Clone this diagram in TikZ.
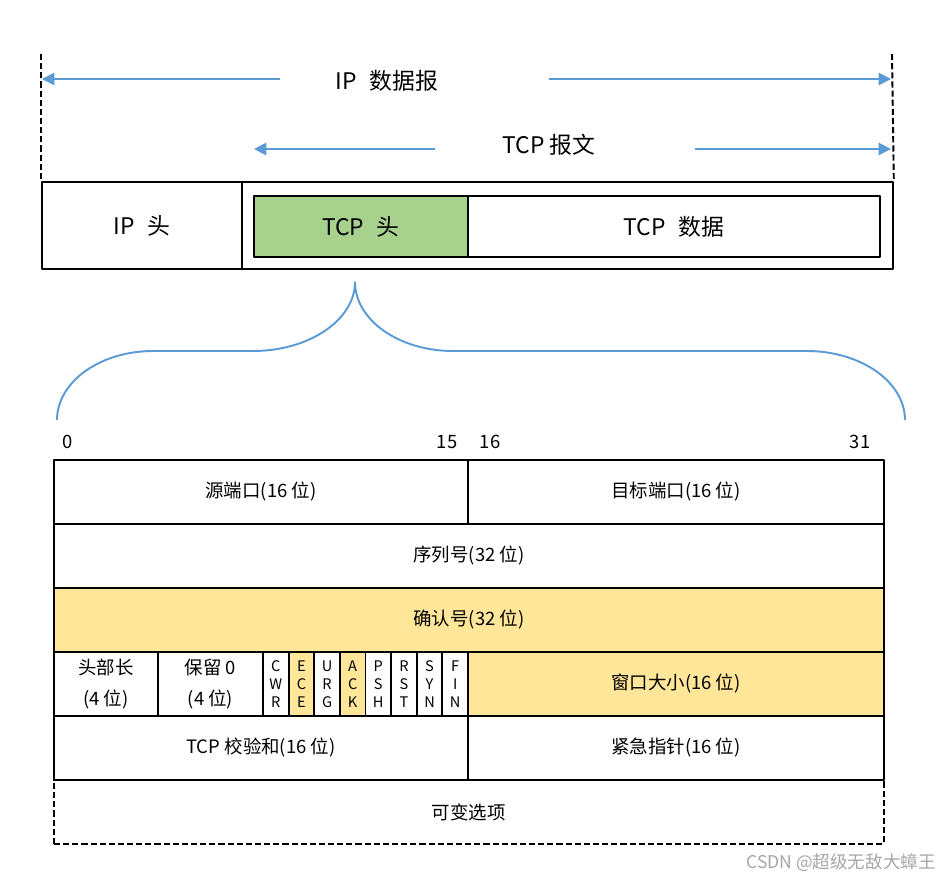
\documentclass[tikz,border=0pt]{standalone}
\usepackage{fontspec}
\setmainfont{Noto Sans CJK SC}
\usetikzlibrary{arrows.meta}
\definecolor{tcpgreen}{HTML}{A9D18E}
\definecolor{tcpyellow}{HTML}{FFE699}
\definecolor{tcpblue}{HTML}{5B9BD5}
\newcommand{\gap}{\hspace{0.55em}}
\tikzset{
  cell/.style={draw, line width=1.1pt, anchor=north west, inner sep=0pt, align=center,
    font=\fontsize{10.5}{18}\selectfont},
  flagcell/.style={cell, minimum width=0.5125cm, minimum height=1.28cm,
    font=\fontsize{8.3}{10.2}\selectfont},
  toplabel/.style={font=\fontsize{13}{15}\selectfont},
  bitnum/.style={font=\fontsize{10.5}{12}\selectfont},
  lenarrow/.style={tcpblue, line width=1.1pt, -{Triangle[length=7pt,width=7pt]}},
  bound/.style={line width=1.1pt, dash pattern=on 3.5pt off 1.7pt}
}
\begin{document}
\begin{tikzpicture}[x=0.02cm, y=-0.02cm, line join=round]
  \useasboundingbox (0,0) rectangle (946,880);
  % IP 数据报
  \node[cell, minimum width=4cm, minimum height=1.74cm, font=\fontsize{13}{15}\selectfont] (iphead) at (41,181) {IP\gap 头};
  \node[cell, minimum width=13.02cm, minimum height=1.74cm] (tcpseg) at (241,181) {};
  \node[cell, fill=tcpgreen, minimum width=4.28cm, minimum height=1.22cm, font=\fontsize{13}{15}\selectfont] (tcphead) at (253,195) {TCP\gap 头};
  \node[cell, minimum width=8.24cm, minimum height=1.22cm, font=\fontsize{13}{15}\selectfont] (tcpdata) at (467,195) {TCP\gap 数据};
  % dashed bounds
  \coordinate (ltop) at (41,54);
  \coordinate (rtop) at (892,54);
  \draw[bound] (ltop) -- (iphead.north west);
  \draw[bound] (rtop) -- (tcpseg.north east);
  % length arrows
  \node[toplabel] (iplabel) at (387,81) {IP\gap 数据报};
  \coordinate (ipls) at (280,79);
  \coordinate (iple) at (42,79);
  \coordinate (iprs) at (549,79);
  \coordinate (ipre) at (891,79);
  \draw[lenarrow] (ipls) -- (iple);
  \draw[lenarrow] (iprs) -- (ipre);
  \node[toplabel] (tcplabel) at (549,145) {TCP 报文};
  \coordinate (tcpls) at (435,149);
  \coordinate (tcple) at (254,149);
  \coordinate (tcprs) at (695,149);
  \coordinate (tcpre) at (891,149);
  \draw[lenarrow] (tcpls) -- (tcple);
  \draw[lenarrow] (tcprs) -- (tcpre);
  % brace
  \draw[tcpblue, line width=1.1pt] (57,420) .. controls (57,382) and (100,351) .. (153,351)
    -- (253,351) .. controls (309,351) and (355,320) .. (355,282)
    .. controls (355,320) and (399,351) .. (453,351)
    -- (807,351) .. controls (861,351) and (905,382) .. (905,420);
  % bit numbers
  \node[bitnum] (bit0) at (68,442) {0};
  \node[bitnum] (bit15) at (447,442) {15};
  \node[bitnum] (bit16) at (490,442) {16};
  \node[bitnum] (bit31) at (860,442) {31};
  % TCP 首部
  \node[cell, minimum width=8.28cm, minimum height=1.28cm] (srcport) at (53,459) {源端口(16 位)};
  \node[cell, minimum width=8.32cm, minimum height=1.28cm] (dstport) at (467,459) {目标端口(16 位)};
  \node[cell, minimum width=16.6cm, minimum height=1.28cm] (seqnum) at (53,523) {序列号(32 位)};
  \node[cell, fill=tcpyellow, minimum width=16.6cm, minimum height=1.28cm] (acknum) at (53,587) {确认号(32 位)};
  \node[cell, minimum width=2.08cm, minimum height=1.28cm] (hdrlen) at (53,651) {头部长\\(4 位)};
  \node[cell, minimum width=2.1cm, minimum height=1.28cm] (rsv) at (157,651) {保留 0\\(4 位)};
  \foreach \f/\c [count=\i from 0] in {C\\W\\R/white, E\\C\\E/tcpyellow, U\\R\\G/white, A\\C\\K/tcpyellow,
      P\\S\\H/white, R\\S\\T/white, S\\Y\\N/white, F\\I\\N/white}
    \node[flagcell, fill=\c] (flag\i) at (262+\i*25.625,651) {\f};
  \node[cell, fill=tcpyellow, minimum width=8.32cm, minimum height=1.28cm] (window) at (467,651) {窗口大小(16 位)};
  \node[cell, minimum width=8.28cm, minimum height=1.28cm] (checksum) at (53,715) {TCP 校验和(16 位)};
  \node[cell, minimum width=8.32cm, minimum height=1.28cm] (urgptr) at (467,715) {紧急指针(16 位)};
  \node[cell, dash pattern=on 3.5pt off 1.7pt, minimum width=16.6cm, minimum height=1.28cm] (options) at (53,779) {可变选项};
  % watermark
  \node[anchor=east, text=black!35, font=\fontsize{10}{12}\selectfont] (mark) at (942,863) {CSDN @超级无敌大蟑王};
\end{tikzpicture}
\end{document}
